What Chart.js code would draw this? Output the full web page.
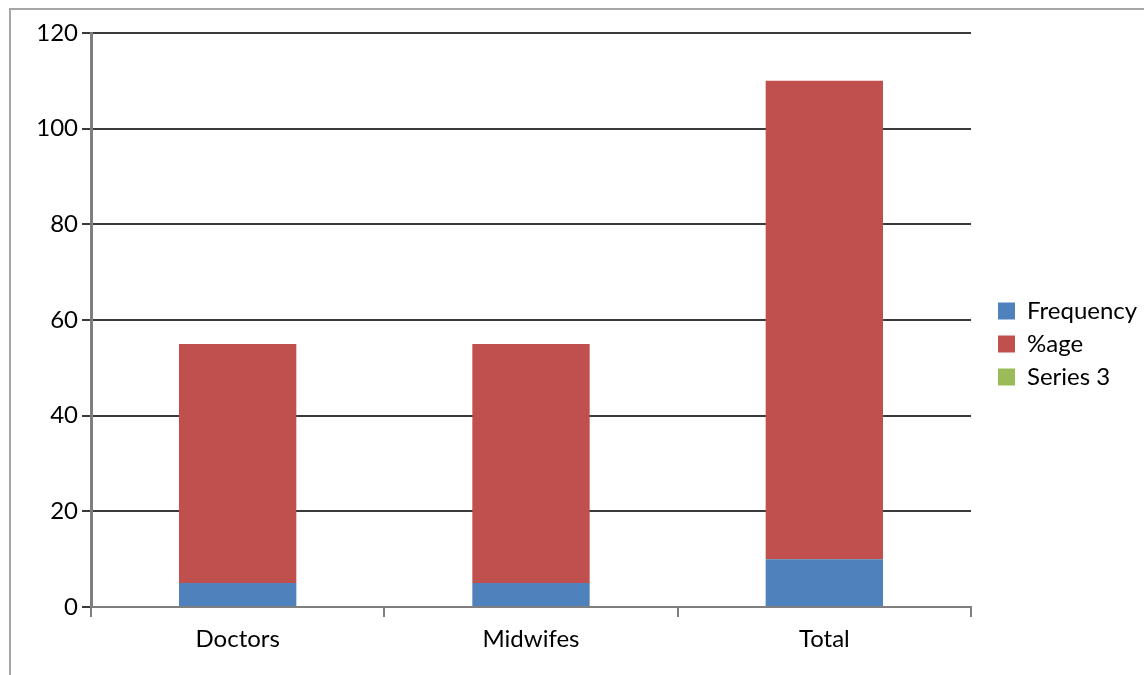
<!DOCTYPE html>
<html lang="en">
  <head>
    <meta charset="UTF-8" />
    <title>Doctors / Midwifes</title>
    <script src="https://cdn.jsdelivr.net/npm/chart.js"></script>
    <style>
      html, body { margin: 0; padding: 0; background: #fff; }
    </style>
  </head>
  <body>
    <canvas id="myChart" width="1144" height="675"></canvas>

    <script>
      // chart data
      const categories = ['Doctors', 'Midwifes', 'Total'];
      const frequency = [5, 5, 10];
      const percentage = [50, 50, 100];
      const series3 = [0, 0, 0];
      const yTicks = [0, 20, 40, 60, 80, 100, 120];

      const FONT = 'Lato, "Open Sans", "Liberation Sans", sans-serif';

      // grey frame round the chart (left and top edges only are visible)
      const framePlugin = {
        id: 'frame',
        beforeDraw(chart) {
          const c = chart.ctx;
          c.save();
          c.strokeStyle = '#a6a6a6';
          c.lineWidth = 2;
          c.beginPath();
          c.moveTo(10, 675);
          c.lineTo(10, 9);
          c.lineTo(1144, 9);
          c.stroke();
          c.restore();
        }
      };

      // keep the legend box a fixed width
      const legendWidthPlugin = {
        id: 'legendWidth',
        afterInit(chart) {
          const lg = chart.legend;
          if (!lg) return;
          const fit = lg.fit.bind(lg);
          lg.fit = function () {
            fit();
            this.width = 155;
          };
        }
      };

      const ctx = document.getElementById('myChart').getContext('2d');
      const myChart = new Chart(ctx, {
        type: 'bar',
        data: {
          labels: categories,
          datasets: [
            { label: 'Frequency', data: frequency, backgroundColor: '#4F81BD' },
            { label: '%age', data: percentage, backgroundColor: '#C0504D' },
            { label: 'Series 3', data: series3, backgroundColor: '#9BBB59' }
          ]
        },
        options: {
          responsive: false,
          animation: false,
          layout: { padding: { top: 33, bottom: 20, left: 0, right: 0 } },
          datasets: {
            bar: { categoryPercentage: 1, barPercentage: 0.4, borderWidth: 0 }
          },
          plugins: {
            tooltip: { enabled: false },
            legend: {
              position: 'right',
              align: 'center',
              labels: {
                boxWidth: 17,
                boxHeight: 17,
                padding: 9,
                color: '#000',
                font: { family: FONT, size: 24 }
              }
            }
          },
          scales: {
            x: {
              stacked: true,
              offset: true,
              afterFit: s => { s.height = 48; },
              border: { color: '#7f7f7f', width: 2 },
              grid: {
                offset: true,
                drawOnChartArea: false,
                drawTicks: true,
                tickLength: 10,
                color: '#7f7f7f',
                lineWidth: 2
              },
              ticks: {
                padding: 8,
                color: '#000',
                font: { family: FONT, size: 24 }
              }
            },
            y: {
              stacked: true,
              min: 0,
              max: 120,
              afterFit: s => { s.width = 91; },
              afterBuildTicks: s => { s.ticks = yTicks.map(v => ({ value: v })); },
              border: { color: '#7f7f7f', width: 3 },
              grid: {
                color: '#3a3a3a',
                lineWidth: 2,
                drawTicks: true,
                tickLength: 9
              },
              ticks: {
                padding: 4,
                color: '#000',
                font: { family: FONT, size: 24 }
              }
            },
            gap: {
              position: 'right',
              display: true,
              afterFit: s => { s.width = 18; },
              border: { display: false },
              grid: { display: false },
              ticks: { display: false }
            }
          }
        },
        plugins: [framePlugin, legendWidthPlugin]
      });
    </script>
  </body>
</html>
